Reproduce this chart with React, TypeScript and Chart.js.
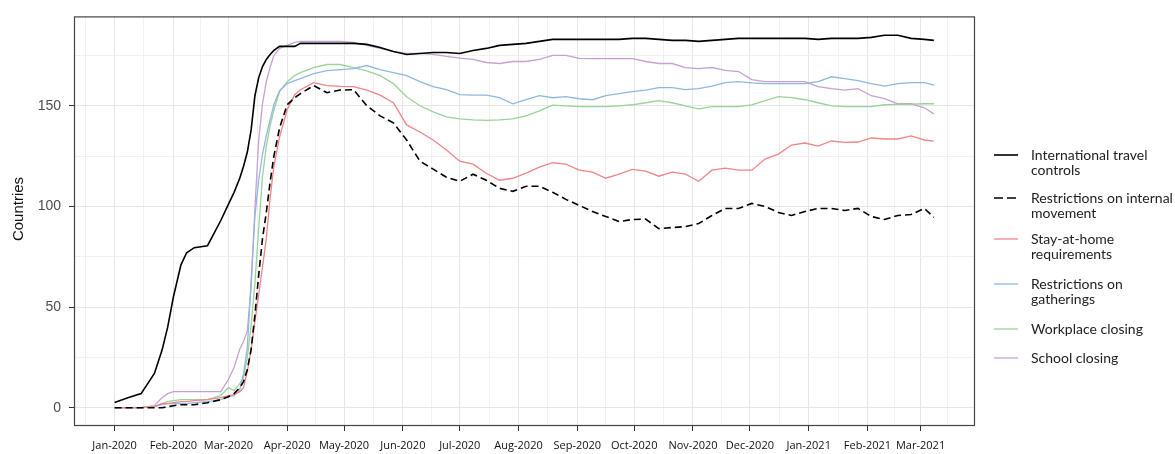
import React, { useEffect, useRef } from "react";
import { Chart, registerables } from "chart.js";

Chart.register(...registerables);

// Day offsets from 1 Jan 2020
const days = [
  0, 7, 14, 21, 25, 28, 31, 35, 38, 42, 49, 56, 60, 63, 66, 68, 70, 72, 74, 76, 78, 80, 82, 84, 87, 91, 95, 98,
  105, 112, 119, 126, 133, 140, 147, 154, 161, 168, 175, 182, 189, 196, 203, 210, 217, 224, 231, 238, 245, 252,
  259, 266, 273, 280, 287, 294, 301, 308, 315, 322, 329, 336, 343, 350, 357, 364, 371, 378, 385, 392, 399, 406,
  413, 420, 427, 432,
];

const travelControls = [
  2.6, 5, 7, 17, 28.5, 40, 55, 71, 77, 79.5, 80.5, 93, 101, 107, 114, 120, 127, 138, 155, 164, 169.5, 173, 175.5, 177.5, 179.5, 179.5, 179.5, 181,
  181, 181, 181, 181, 180.5, 179, 177, 175.5, 176, 176.5, 176.5, 176, 177.5, 178.5, 180, 180.5, 181, 182, 183, 183, 183, 183,
  183, 183, 183.5, 183.5, 183, 182.5, 182.5, 182, 182.5, 183, 183.5, 183.5, 183.5, 183.5, 183.5, 183.5, 183, 183.5, 183.5, 183.5, 184, 185,
  185, 183.5, 183, 182.5,
];

const internalMovement = [
  0, 0, 0, 0, 0, 0.5, 1, 1.5, 1.5, 1.5, 2.5, 4, 5.5, 7, 10, 13, 19, 29, 46, 66, 84, 97, 112, 125, 139, 150.5, 154, 156,
  160, 156.5, 157.8, 158, 150, 145, 141.5, 133, 122.5, 118.5, 114.5, 112.5, 116, 113, 109, 107.5, 110, 110, 107, 103.5, 100.5, 97.5,
  95, 92.5, 93.5, 93.7, 89, 89.5, 90, 91.5, 95.5, 99, 99, 101.5, 100, 97, 95.5, 97.5, 99, 99, 98, 99, 95, 93.5,
  95.5, 96, 99, 94.6,
];

const stayAtHome = [
  0, 0, 0, 0.5, 2, 2, 2.5, 3, 3, 3.5, 4, 5, 6, 6.5, 8, 10, 18, 29, 43, 56, 70, 84, 104, 120, 134.5, 148, 155.5, 158,
  161.5, 160, 159.6, 159.5, 157.8, 155.3, 151.5, 140.5, 137, 133, 128, 122.5, 121, 116.5, 113, 114, 116.5, 119.5, 121.7, 121, 118, 117,
  114, 116, 118.4, 117.5, 115, 117, 116, 112.5, 118, 119, 118, 118, 123.5, 126, 130.5, 131.5, 130, 132.5, 131.8, 132, 134, 133.5,
  133.5, 135, 133, 132.4,
];

const gatheringRestrictions = [
  0, 0, 0, 0.5, 1.5, 2, 2, 2, 2, 2.5, 3, 4, 5.5, 6, 9, 17, 30, 63, 95, 113, 126, 135, 143, 150.5, 157.5, 161, 162.5, 163.5,
  166, 167.5, 168, 168.5, 170, 168, 166.5, 165, 162, 159.5, 158, 155.5, 155.3, 155.3, 154, 151, 153, 155, 154, 154.5, 153.5, 153,
  155, 156, 157, 157.8, 159, 159, 158, 158.5, 159.8, 161.5, 162, 161.4, 161, 161, 161, 161, 162, 164.4, 163.5, 162.5, 161, 159.8,
  161, 161.5, 161.5, 160.3,
];

const workplaceClosing = [
  0, 0, 0, 0.5, 2, 3, 3.5, 4, 4, 4, 4, 6, 10, 8.5, 12, 15, 25, 41, 62, 89, 115, 130, 140, 148, 157, 162, 165, 166.5,
  169, 170.5, 170.5, 169, 167.3, 165, 161, 154.5, 150, 147, 144.5, 143.5, 143, 142.7, 143, 143.5, 145, 147.5, 150.3, 150, 149.6, 149.6,
  149.6, 150, 150.5, 151.5, 152.6, 151.5, 150, 148.5, 149.6, 149.6, 149.6, 150.5, 152.5, 154.5, 154, 153, 151.5, 150, 149.6, 149.6, 149.6, 150.5,
  150.7, 150.8, 151, 151,
];

const schoolClosing = [
  0, 0, 0, 1, 5, 7, 8, 8, 8, 8, 8, 8, 14, 20, 29, 33, 38, 60, 99, 133, 151, 162, 169, 175, 178.5, 180, 181.5, 182,
  182, 182, 182, 181.5, 180, 178.5, 177, 176, 176, 175.5, 174.5, 173.7, 173, 171.5, 171, 172, 172, 173, 175, 175, 173.5, 173.4,
  173.4, 173.4, 173.4, 172, 171, 171, 169, 168.5, 169, 167.6, 167, 163, 162, 162, 162, 162, 159.5, 158.5, 157.8, 158.5, 155, 153.5,
  151, 151, 149, 146,
];

const monthDays = [0, 31, 60, 91, 121, 152, 182, 213, 244, 274, 305, 335, 366, 397, 425];
const monthLabels = [
  "Jan-2020", "Feb-2020", "Mar-2020", "Apr-2020", "May-2020", "Jun-2020", "Jul-2020", "Aug-2020",
  "Sep-2020", "Oct-2020", "Nov-2020", "Dec-2020", "Jan-2021", "Feb-2021", "Mar-2021",
];
const yMajorTicks = [0, 50, 100, 150];
const yMinorTicks = [25, 75, 125, 175];

const seriesNames = [
  "International travel controls",
  "Restrictions on internal movement",
  "Stay-at-home requirements",
  "Restrictions on gatherings",
  "Workplace closing",
  "School closing",
];
const legendLines = [
  ["International travel", "controls"],
  ["Restrictions on internal", "movement"],
  ["Stay-at-home", "requirements"],
  ["Restrictions on", "gatherings"],
  ["Workplace closing"],
  ["School closing"],
];
const seriesValues = [travelControls, internalMovement, stayAtHome, gatheringRestrictions, workplaceClosing, schoolClosing];
const seriesColors = ["#000000", "#000000", "#F08587", "#8FB8DE", "#99D398", "#C8A0D3"];
const seriesWidths = [1.6, 1.6, 1.3, 1.3, 1.3, 1.3];
const seriesDash: number[][] = [[], [7, 4], [], [], [], []];
const legendTops = [155, 198, 239, 284, 329, 358];

const xMinorTicks: number[] = (() => {
  const out: number[] = [];
  out.push(monthDays[0] - (monthDays[1] - monthDays[0]) / 2);
  for (let i = 0; i < monthDays.length - 1; i++) out.push((monthDays[i] + monthDays[i + 1]) / 2);
  const n = monthDays.length;
  out.push(monthDays[n - 1] + (monthDays[n - 1] - monthDays[n - 2]) / 2);
  return out;
})();

const framePlugin = {
  id: "frame",
  afterDatasetsDraw(chart: any) {
    const { ctx, chartArea } = chart;
    const { left, top, right, bottom } = chartArea;
    ctx.save();
    ctx.strokeStyle = "#444444";
    ctx.lineWidth = 1.2;
    ctx.strokeRect(left + 0.5, top + 0.5, right - left - 1, bottom - top - 1);
    ctx.restore();
  },
  afterDraw(chart: any) {
    const { ctx } = chart;
    ctx.save();
    ctx.translate(19, 209);
    ctx.rotate(-Math.PI / 2);
    ctx.font = '15px "Liberation Sans", Arial, sans-serif';
    ctx.fillStyle = "#111111";
    ctx.textAlign = "center";
    ctx.textBaseline = "middle";
    ctx.fillText("Countries", 0, 0);
    ctx.restore();
  },
};

export default function App() {
  const canvasRef = useRef<HTMLCanvasElement | null>(null);

  useEffect(() => {
    const canvas = canvasRef.current;
    if (!canvas) return;
    const datasets = seriesNames.map((name, i) => ({
      label: name,
      data: days.map((d, j) => ({ x: d, y: seriesValues[i][j] })),
      borderColor: seriesColors[i],
      backgroundColor: seriesColors[i],
      borderWidth: seriesWidths[i],
      borderDash: seriesDash[i],
      pointRadius: 0,
      tension: 0,
      fill: false,
    }));
    const isMajorX = (v: number) => monthDays.indexOf(v) >= 0;
    const isMajorY = (v: number) => yMajorTicks.indexOf(v) >= 0;
    const chart = new Chart(canvas, {
      type: "line",
      data: { datasets },
      plugins: [framePlugin],
      options: {
        animation: false,
        responsive: false,
        maintainAspectRatio: false,
        layout: { padding: { top: 13, right: 200, left: 0, bottom: 0 } },
        plugins: { legend: { display: false }, tooltip: { enabled: false } },
        scales: {
          x: {
            type: "linear",
            min: -21.4,
            max: 453.7,
            afterBuildTicks: (s: any) => {
              s.ticks = [...xMinorTicks, ...monthDays].sort((a, b) => a - b).map((v) => ({ value: v }));
            },
            afterFit: (s: any) => {
              s.height = 28;
            },
            border: { display: false },
            grid: {
              color: (c: any) => (c.tick && isMajorX(c.tick.value) ? "#E6E6E6" : "#F0F0F0"),
              lineWidth: 1,
              tickColor: (c: any) => (c.tick && isMajorX(c.tick.value) ? "#333333" : "rgba(0,0,0,0)"),
              tickLength: 5,
            },
            ticks: {
              autoSkip: false,
              maxRotation: 0,
              minRotation: 0,
              padding: 8,
              color: "#111111",
              font: { family: '"Open Sans", sans-serif', size: 11 },
              callback: (v: any) => {
                const i = monthDays.indexOf(Number(v));
                return i >= 0 ? monthLabels[i] : "";
              },
            },
          },
          y: {
            type: "linear",
            min: -9.08,
            max: 194.4,
            afterBuildTicks: (s: any) => {
              s.ticks = [...yMajorTicks, ...yMinorTicks].sort((a, b) => a - b).map((v) => ({ value: v }));
            },
            afterFit: (s: any) => {
              s.width = 74;
            },
            border: { display: false },
            grid: {
              color: (c: any) => (c.tick && isMajorY(c.tick.value) ? "#E6E6E6" : "#F0F0F0"),
              lineWidth: 1,
              tickColor: (c: any) => (c.tick && isMajorY(c.tick.value) ? "#333333" : "rgba(0,0,0,0)"),
              tickLength: 5,
            },
            ticks: {
              autoSkip: false,
              padding: 8,
              color: "#4D4D4D",
              font: { family: '"Liberation Sans", Arial, sans-serif', size: 14 },
              callback: (v: any) => (isMajorY(Number(v)) ? String(v) : ""),
            },
          },
        },
      } as any,
    });
    return () => chart.destroy();
  }, []);

  return (
    <div style={{ position: "absolute", left: 0, top: 0, width: 1175, height: 454, background: "#ffffff", overflow: "hidden" }}>
      <canvas ref={canvasRef} width={1175} height={454} style={{ display: "block", width: 1175, height: 454 }} />
      {legendLines.map((lines, i) => (
        <div key={i}>
          <svg
            width={24}
            height={4}
            style={{ position: "absolute", left: 994, top: legendTops[i] - 2 }}
          >
            <line
              x1={0}
              y1={2}
              x2={24}
              y2={2}
              stroke={seriesColors[i]}
              strokeWidth={seriesWidths[i]}
              strokeDasharray={seriesDash[i].length ? "9,4" : undefined}
            />
          </svg>
          <div
            style={{
              position: "absolute",
              left: 1031,
              top: legendTops[i] - 8,
              fontFamily: 'Lato, "Open Sans", sans-serif',
              fontSize: 14,
              lineHeight: "15px",
              color: "#222222",
              whiteSpace: "nowrap",
            }}
          >
            {lines.map((t, k) => (
              <div key={k}>{t}</div>
            ))}
          </div>
        </div>
      ))}
    </div>
  );
}
